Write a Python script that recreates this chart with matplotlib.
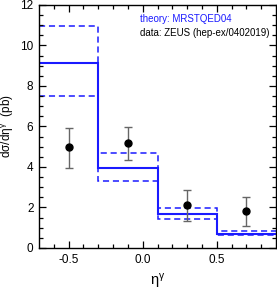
import matplotlib
matplotlib.use('Agg')
import matplotlib.pyplot as plt
import numpy as np

plt.rcParams['font.family'] = ['Liberation Sans', 'DejaVu Sans']
plt.rcParams['mathtext.fontset'] = 'custom'
plt.rcParams['mathtext.rm'] = 'Liberation Sans'
plt.rcParams['mathtext.it'] = 'Liberation Sans'

# bin edges in eta^gamma
edges = [-0.7, -0.3, 0.1, 0.5, 0.9]
theory = [9.15, 3.97, 1.68, 0.69]
theory_up = [10.95, 4.69, 1.99, 0.84]
theory_lo = [7.49, 3.29, 1.43, 0.62]

# ZEUS data
data_x = [-0.5, -0.1, 0.3, 0.7]
data_y = [4.97, 5.20, 2.12, 1.83]
data_hi = [5.91, 5.99, 2.85, 2.53]
data_lo = [3.95, 4.35, 1.35, 1.09]

fig = plt.figure(figsize=(2.77, 2.94), dpi=100)
ax = fig.add_axes([0.1408, 0.1565, 0.8556, 0.8265])

blue = '#1a1aff'
ax.stairs(theory, edges, baseline=None, color=blue, lw=1.5)
ax.stairs(theory_up, edges, baseline=None, color=blue, lw=1.1, ls=(0, (4, 2.5)))
ax.stairs(theory_lo, edges, baseline=None, color=blue, lw=1.1, ls=(0, (4, 2.5)))

yerr = [np.array(data_y) - np.array(data_lo), np.array(data_hi) - np.array(data_y)]
ax.errorbar(data_x, data_y, yerr=yerr, fmt='o', color='black', ms=5,
            ecolor='#666666', elinewidth=1.0, capsize=3, capthick=1.0)

ax.set_xlim(-0.7, 0.9)
ax.set_ylim(0, 12)
ax.set_xticks([-0.5, 0.0, 0.5])
ax.set_xticklabels(['-0.5', '0.0', '0.5'])
ax.set_xticks(np.arange(-0.6, 0.9, 0.1), minor=True)
ax.set_yticks([0, 2, 4, 6, 8, 10, 12])
ax.set_yticks(np.arange(0, 12, 0.5), minor=True)
ax.tick_params(which='both', direction='in', top=True, right=True, labelsize=8.5, width=0.9)
ax.tick_params(which='major', length=5, pad=4)
ax.tick_params(which='minor', length=3)
for s in ax.spines.values():
    s.set_linewidth(1.0)

ax.text(0.425, 0.942, 'theory: MRSTQED04', color=blue, fontsize=7, va='center',
        transform=ax.transAxes)
ax.text(0.425, 0.885, 'data: ZEUS (hep-ex/0402019)', color='black', fontsize=7, va='center',
        transform=ax.transAxes)

ax.set_xlabel(r'$\eta^{\gamma}$', fontsize=10.5, labelpad=5)
ax.set_ylabel(r'd$\sigma$/d$\eta^{\gamma}$  (pb)', fontsize=8.5, labelpad=3)

fig.savefig('out.png', dpi=100)
